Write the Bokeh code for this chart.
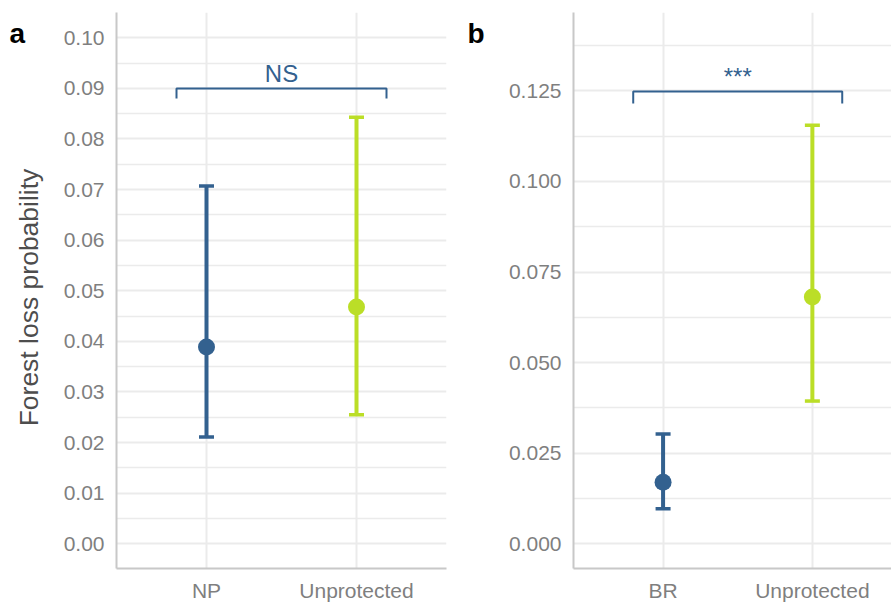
import math
from bokeh.plotting import figure
from bokeh.layouts import row
from bokeh.models import (ColumnDataSource, Whisker, TeeHead, FixedTicker,
                          PrintfTickFormatter, Range1d, Label)
from bokeh.embed import file_html
from bokeh.resources import INLINE

# ---------------- data ----------------
cats_a = ["NP", "Unprotected"]
mean_a = [0.0389, 0.0468]
lower_a = [0.0211, 0.0255]
upper_a = [0.0707, 0.0843]

cats_b = ["BR", "Unprotected"]
mean_b = [0.0170, 0.0681]
lower_b = [0.0097, 0.0394]
upper_b = [0.0303, 0.1155]

ticks_a = [0.00, 0.01, 0.02, 0.03, 0.04, 0.05, 0.06, 0.07, 0.08, 0.09, 0.10]
minor_a = [0.005, 0.015, 0.025, 0.035, 0.045, 0.055, 0.065, 0.075, 0.085, 0.095]
ticks_b = [0.000, 0.025, 0.050, 0.075, 0.100, 0.125]
minor_b = [0.0125, 0.0375, 0.0625, 0.0875, 0.1125, 0.1375]

y_title = "Forest loss probability"
sig_a = "NS"
sig_b = "***"
bracket_a = dict(x0=0.8, x1=2.2, y=0.090, tip=0.088, text_y=0.0929)
bracket_b = dict(x0=0.8, x1=2.2, y=0.1248, tip=0.1215, text_y=0.1290)

colors = ["#33618F", "#BBDE27"]
FONT = "Liberation Sans"
GRID = "#EBEBEB"
AXIS = "#C8C8C8"
TICK_TXT = "#7F7F7F"


def panel(cats, mean, lower, upper, ticks, minor, fmt, yr, xr_end, width,
          left, right, sig, br, sig_size, letter, letter_x, ylabel=None):
    xs = list(range(1, len(cats) + 1))
    src = ColumnDataSource(dict(x=xs, m=mean, lo=lower, hi=upper, c=colors))
    p = figure(width=width, height=604, output_backend="svg", toolbar_location=None,
               x_range=Range1d(0.4, xr_end), y_range=Range1d(*yr),
               min_border_left=left, min_border_right=right,
               min_border_top=12, min_border_bottom=35)
    p.outline_line_color = None
    p.background_fill_color = "white"
    p.border_fill_color = "white"

    # grids
    p.xgrid.ticker = FixedTicker(ticks=xs)
    p.xgrid.grid_line_color = GRID
    p.xgrid.grid_line_width = 2
    p.ygrid.ticker = FixedTicker(ticks=ticks, minor_ticks=minor)
    p.ygrid.grid_line_color = GRID
    p.ygrid.grid_line_width = 2
    p.ygrid.minor_grid_line_color = GRID
    p.ygrid.minor_grid_line_width = 1.3

    # axes
    p.xaxis.ticker = FixedTicker(ticks=xs)
    p.xaxis.major_label_overrides = {x: c for x, c in zip(xs, cats)}
    p.yaxis.ticker = FixedTicker(ticks=ticks, minor_ticks=minor)
    p.yaxis.formatter = PrintfTickFormatter(format=fmt)
    for ax in (p.xaxis[0], p.yaxis[0]):
        ax.axis_line_color = AXIS
        ax.axis_line_width = 2
        ax.major_tick_line_color = None
        ax.minor_tick_line_color = None
        ax.major_tick_out = 0
        ax.major_tick_in = 0
        ax.minor_tick_out = 0
        ax.minor_tick_in = 0
        ax.major_label_text_font = FONT
        ax.major_label_text_font_size = "21px"
        ax.major_label_text_color = TICK_TXT
    p.xaxis.major_label_standoff = 10
    p.yaxis.major_label_standoff = 12

    # error bars
    w = Whisker(source=src, base="x", upper="hi", lower="lo", dimension="height",
                line_color="c", line_width=4,
                upper_head=TeeHead(size=15, line_width=3.5, line_color="c"),
                lower_head=TeeHead(size=15, line_width=3.5, line_color="c"))
    p.add_layout(w)
    p.scatter("x", "m", source=src, size=17, color="c", line_width=0)

    # significance bracket
    bc = colors[0]
    p.multi_line(xs=[[br["x0"], br["x0"], br["x1"], br["x1"]]],
                 ys=[[br["tip"], br["y"], br["y"], br["tip"]]],
                 line_color=bc, line_width=2)
    p.add_layout(Label(x=(br["x0"] + br["x1"]) / 2, y=br["text_y"], text=sig,
                       text_align="center", text_baseline="middle",
                       text_font=FONT, text_font_size=sig_size, text_color=bc))

    # y title (side-panel label, placed on the canvas)
    if ylabel:
        p.add_layout(Label(x=28, y=297, x_units="canvas", y_units="canvas",
                           angle=math.pi / 2, text=ylabel, text_font=FONT,
                           text_font_size="26.5px", text_color="#4D4D4D",
                           text_align="center", text_baseline="middle"), "left")

    # panel letter (side-panel label, so it is not clipped to the frame)
    p.add_layout(Label(x=letter_x, y=33, x_units="canvas", y_units="canvas",
                       text=letter, text_font=FONT,
                       text_font_size="28px", text_font_style="bold",
                       text_color="black", text_align="left",
                       text_baseline="alphabetic"), "left")
    return p


pa = panel(cats_a, mean_a, lower_a, upper_a, ticks_a, minor_a, "%.2f",
           (-0.0049, 0.105), 2.6, 450, 116, 4, sig_a, bracket_a, "24px", "a", 9,
           ylabel=y_title)
pb = panel(cats_b, mean_b, lower_b, upper_b, ticks_b, minor_b, "%.3f",
           (-0.0068, 0.1466), 2.53, 441, 123, 0, sig_b, bracket_b, "24px", "b", 17)

layout = row(pa, pb)
open("out.html", "w").write(file_html(layout, INLINE))
